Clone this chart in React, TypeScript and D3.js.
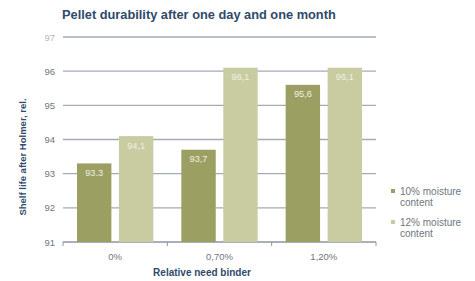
import React, { useEffect, useRef } from "react";
import * as d3 from "d3";

const categories = ["0%", "0,70%", "1,20%"];
const seriesNames = ["10% moisture content", "12% moisture content"];
const moisture10 = [93.3, 93.7, 95.6];
const moisture12 = [94.1, 96.1, 96.1];
const valueLabels10 = ["93.3", "93,7", "95,6"];
const valueLabels12 = ["94,1", "96,1", "96,1"];
const yTicks = [91, 92, 93, 94, 95, 96, 97];

const colors = ["#9ba062", "#c9cca1"];
const font = "Liberation Sans, Arial, sans-serif";

const App = () => {
  const svgRef = useRef<SVGSVGElement>(null);

  useEffect(() => {
    const svg = d3.select(svgRef.current);
    svg.selectAll("*").remove();

    const left = 63;
    const right = 376;
    const top = 37;
    const bottom = 242;

    const x = d3.scaleBand().domain(categories).range([left, right]).paddingInner(0).paddingOuter(0);
    const x1 = d3.scaleBand().domain(["a", "b"]).range([14, x.bandwidth() - 14]).paddingInner(0.18);
    const y = d3.scaleLinear().domain([91, 97]).range([bottom, top]);

    // title
    svg.append("text")
      .attr("x", 62)
      .attr("y", 19)
      .style("font-family", font)
      .style("font-weight", "bold")
      .style("font-size", "12.8px")
      .attr("fill", "#2f4a6a")
      .text("Pellet durability after one day and one month");

    // gridlines
    svg.append("g")
      .selectAll("line")
      .data(yTicks)
      .enter()
      .append("line")
      .attr("x1", left)
      .attr("x2", right)
      .attr("y1", (d) => y(d))
      .attr("y2", (d) => y(d))
      .attr("stroke", (d) => (d === 91 ? "#8e96a3" : "#a3abb7"))
      .attr("stroke-width", 1.3);

    // y tick labels
    svg.append("g")
      .selectAll("text")
      .data(yTicks)
      .enter()
      .append("text")
      .attr("x", 55)
      .attr("y", (d) => y(d) + 3.5)
      .attr("text-anchor", "end")
      .style("font-family", font)
      .style("font-size", "9.5px")
      .attr("fill", (d) => (d === 97 ? "#b3b8c0" : "#6f7680"))
      .text((d) => d);

    // category separators (tick marks)
    const sep = [left, ...categories.map((c) => (x(c) as number) + x.bandwidth())];
    svg.append("g")
      .selectAll("line")
      .data(sep)
      .enter()
      .append("line")
      .attr("x1", (d) => d)
      .attr("x2", (d) => d)
      .attr("y1", bottom)
      .attr("y2", bottom + 4)
      .attr("stroke", "#8e96a3")
      .attr("stroke-width", 1);

    const rows = categories.map((c, i) => ({
      c,
      vals: [
        { k: "a", v: moisture10[i], label: valueLabels10[i], color: colors[0] },
        { k: "b", v: moisture12[i], label: valueLabels12[i], color: colors[1] },
      ],
    }));

    const groups = svg.append("g")
      .selectAll("g")
      .data(rows)
      .enter()
      .append("g")
      .attr("transform", (d) => `translate(${x(d.c)},0)`);

    groups.selectAll("rect")
      .data((d) => d.vals)
      .enter()
      .append("rect")
      .attr("x", (d) => x1(d.k) as number)
      .attr("width", x1.bandwidth())
      .attr("y", (d) => y(d.v))
      .attr("height", (d) => bottom - y(d.v))
      .attr("fill", (d) => d.color);

    groups.selectAll("text")
      .data((d) => d.vals)
      .enter()
      .append("text")
      .attr("x", (d) => (x1(d.k) as number) + x1.bandwidth() / 2)
      .attr("y", (d) => y(d.v) + 12.5)
      .attr("text-anchor", "middle")
      .style("font-family", font)
      .style("font-size", "9.2px")
      .attr("fill", "#eef0e2")
      .text((d) => d.label);

    // x labels
    svg.append("g")
      .selectAll("text")
      .data(categories)
      .enter()
      .append("text")
      .attr("x", (d) => (x(d) as number) + x.bandwidth() / 2)
      .attr("y", 260)
      .attr("text-anchor", "middle")
      .style("font-family", font)
      .style("font-size", "9.5px")
      .attr("fill", "#6f7680")
      .text((d) => d);

    // x axis title
    svg.append("text")
      .attr("x", 202)
      .attr("y", 276)
      .attr("text-anchor", "middle")
      .style("font-family", font)
      .style("font-weight", "bold")
      .style("font-size", "10px")
      .attr("fill", "#2f4a6a")
      .text("Relative need binder");

    // y axis title
    svg.append("text")
      .attr("transform", "translate(26,157) rotate(-90)")
      .attr("text-anchor", "middle")
      .style("font-family", font)
      .style("font-weight", "bold")
      .style("font-size", "9.5px")
      .attr("fill", "#2f4a6a")
      .text("Shelf life after Holmer, rel.");

    // legend
    const legend = svg.append("g")
      .selectAll("g")
      .data(seriesNames)
      .enter()
      .append("g")
      .attr("transform", (d, i) => `translate(391,${189 + i * 31})`);

    legend.append("rect")
      .attr("width", 4)
      .attr("height", 4)
      .attr("y", 0)
      .attr("fill", (d, i) => colors[i]);

    legend.append("text")
      .attr("x", 9)
      .attr("y", 5.5)
      .style("font-family", font)
      .style("font-size", "10px")
      .attr("fill", "#6f7680")
      .text((d) => d.split(" ").slice(0, 2).join(" "));

    legend.append("text")
      .attr("x", 9)
      .attr("y", 16.5)
      .style("font-family", font)
      .style("font-size", "10px")
      .attr("fill", "#6f7680")
      .text((d) => d.split(" ").slice(2).join(" "));
  }, []);

  return (
    <svg
      ref={svgRef}
      width={475}
      height={281}
      style={{ position: "absolute", left: 0, top: 0, background: "#fff" }}
    ></svg>
  );
};

export default App;
